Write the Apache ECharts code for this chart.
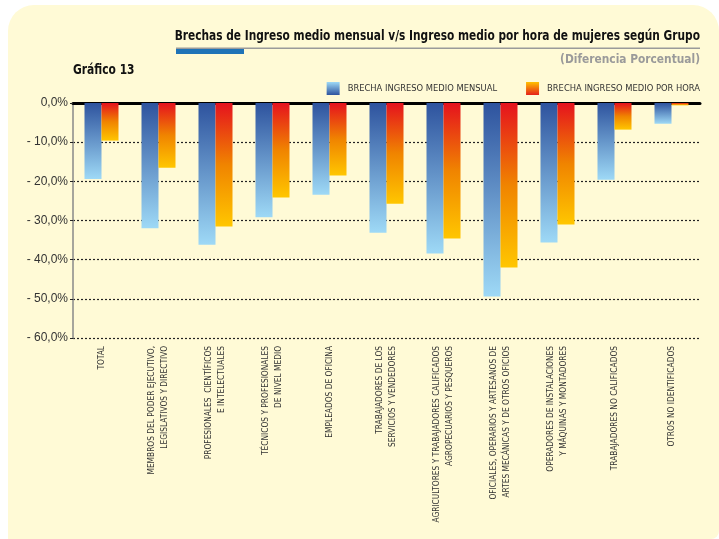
<!DOCTYPE html>
<html>
<head>
<meta charset="utf-8">
<script src="https://cdn.jsdelivr.net/npm/echarts@6/dist/echarts.min.js"></script>
<style>
  html, body { margin: 0; padding: 0; background: #ffffff; }
  #main { width: 719px; height: 539px; }
</style>
</head>
<body>
<div id="main"></div>
<script>
  // grupos ocupacionales
  var categories = [
    'TOTAL',
    'MEMBROS DEL PODER EJECUTIVO,\nLEGISLATIVOS Y DIRECTIVO',
    'PROFESIONALES  CIENTÍFICOS\nE INTELECTUALES',
    'TÉCNICOS Y PROFESIONALES\nDE NIVEL MEDIO',
    'EMPLEADOS DE OFICINA',
    'TRABAJADORES DE LOS\nSERVICIOS Y VENDEDORES',
    'AGRICULTORES Y TRABAJADORES CALIFICADOS\nAGROPECUARIOS Y PESQUEROS',
    'OFICIALES, OPERARIOS Y ARTESANOS DE\nARTES MECÁNICAS Y DE OTROS OFICIOS',
    'OPERADORES DE INSTALACIONES\nY MÁQUINAS Y MONTADORES',
    'TRABAJADORES NO CALIFICADOS',
    'OTROS NO IDENTIFICADOS'
  ];
  var brechaMensual = [-19.4, -32.0, -36.2, -29.2, -23.4, -33.1, -38.4, -49.4, -35.6, -19.6, -5.3];
  var brechaHora = [-9.6, -16.5, -31.5, -24.1, -18.5, -25.7, -34.6, -42.0, -31.0, -6.8, -0.6];
  var seriesNames = ['BRECHA INGRESO MEDIO MENSUAL', 'BRECHA INGRESO MEDIO POR HORA'];

  var narrow = '"DejaVu Sans Condensed", "Liberation Sans", sans-serif';

  function grad(stops) {
    return new echarts.graphic.LinearGradient(0, 0, 0, 1, stops);
  }
  var blueBar = grad([{offset: 0, color: '#2E539E'}, {offset: 1, color: '#9ED9F6'}]);
  var orangeBar = grad([{offset: 0, color: '#E5121E'}, {offset: 0.5, color: '#F08400'}, {offset: 1, color: '#FFC600'}]);
  var blueIcon = grad([{offset: 0, color: '#9ED9F6'}, {offset: 1, color: '#2E539E'}]);
  var orangeIcon = grad([{offset: 0, color: '#FFC000'}, {offset: 1, color: '#E5211A'}]);

  var myChart = echarts.init(document.getElementById('main'));
  myChart.setOption({
    animation: false,
    graphic: [
      {
        type: 'rect', z: -10,
        shape: {x: 8, y: 5, width: 711, height: 534, r: [26, 26, 8, 0]},
        style: {fill: '#FFFAD6'}
      },
      {
        type: 'rect', z: 5,
        shape: {x: 176, y: 47.5, width: 524, height: 1.5},
        style: {fill: '#9A9A9A'}
      },
      {
        type: 'rect', z: 6,
        shape: {x: 176, y: 49, width: 68, height: 5},
        style: {fill: '#1F73B7'}
      },
      // titulos (texto comprimido a lo ancho)
      {
        type: 'text', x: 700, y: 36, scaleX: 0.843,
        style: {
          text: 'Brechas de Ingreso medio mensual v/s Ingreso medio por hora de mujeres según Grupo',
          align: 'right', verticalAlign: 'middle',
          font: 'bold 14px ' + narrow, fill: '#111'
        }
      },
      {
        type: 'text', x: 700, y: 60, scaleX: 0.91,
        style: {
          text: '(Diferencia Porcentual)',
          align: 'right', verticalAlign: 'middle',
          font: 'bold 13px ' + narrow, fill: '#9A9A9A'
        }
      },
      {
        type: 'text', x: 73, y: 70, scaleX: 0.85,
        style: {
          text: 'Gráfico 13',
          align: 'left', verticalAlign: 'middle',
          font: 'bold 14px ' + narrow, fill: '#111'
        }
      }
    ],
    legend: {
      right: 14, top: 77,
      width: 500,
      itemWidth: 13, itemHeight: 13,
      itemGap: 29,
      icon: 'rect',
      textStyle: {fontFamily: narrow, fontSize: 9.3, color: '#333', padding: [0, 0, 0, 3]},
      data: [
        {name: seriesNames[0], itemStyle: {color: blueIcon}},
        {name: seriesNames[1], itemStyle: {color: orangeIcon}}
      ]
    },
    grid: {left: 73, right: 19, top: 103, bottom: 201},
    xAxis: [
      {
        type: 'category',
        position: 'top',
        data: categories,
        axisLine: {onZero: false, lineStyle: {color: '#000', width: 3}},
        axisTick: {inside: true, length: 4, lineStyle: {color: '#555'}},
        axisLabel: {show: false}
      },
      {
        type: 'category',
        position: 'bottom',
        data: categories,
        axisLine: {show: false},
        axisTick: {show: false},
        axisLabel: {
          rotate: 90, interval: 0, margin: 8,
          fontFamily: narrow, fontSize: 8.3, lineHeight: 13, color: '#333'
        }
      }
    ],
    yAxis: {
      type: 'value',
      min: -60, max: 0, interval: 10,
      axisLine: {show: true, lineStyle: {color: '#888', width: 1.5}},
      axisTick: {show: true, length: 3, lineStyle: {color: '#222'}},
      splitLine: {lineStyle: {color: '#222', width: 1.2, type: [2, 2]}},
      axisLabel: {
        margin: 5,
        fontFamily: '"Liberation Sans", Arial, sans-serif', fontSize: 12, color: '#333',
        formatter: function (v) {
          return v === 0 ? '0,0%' : '- ' + Math.abs(v) + ',0%';
        }
      }
    },
    series: [
      {
        name: seriesNames[0], type: 'bar', xAxisIndex: 0,
        barWidth: 17, barGap: '0%',
        itemStyle: {color: blueBar},
        data: brechaMensual
      },
      {
        name: seriesNames[1], type: 'bar', xAxisIndex: 0,
        barWidth: 17, barGap: '0%',
        itemStyle: {color: orangeBar},
        data: brechaHora
      }
    ]
  });
</script>
</body>
</html>
